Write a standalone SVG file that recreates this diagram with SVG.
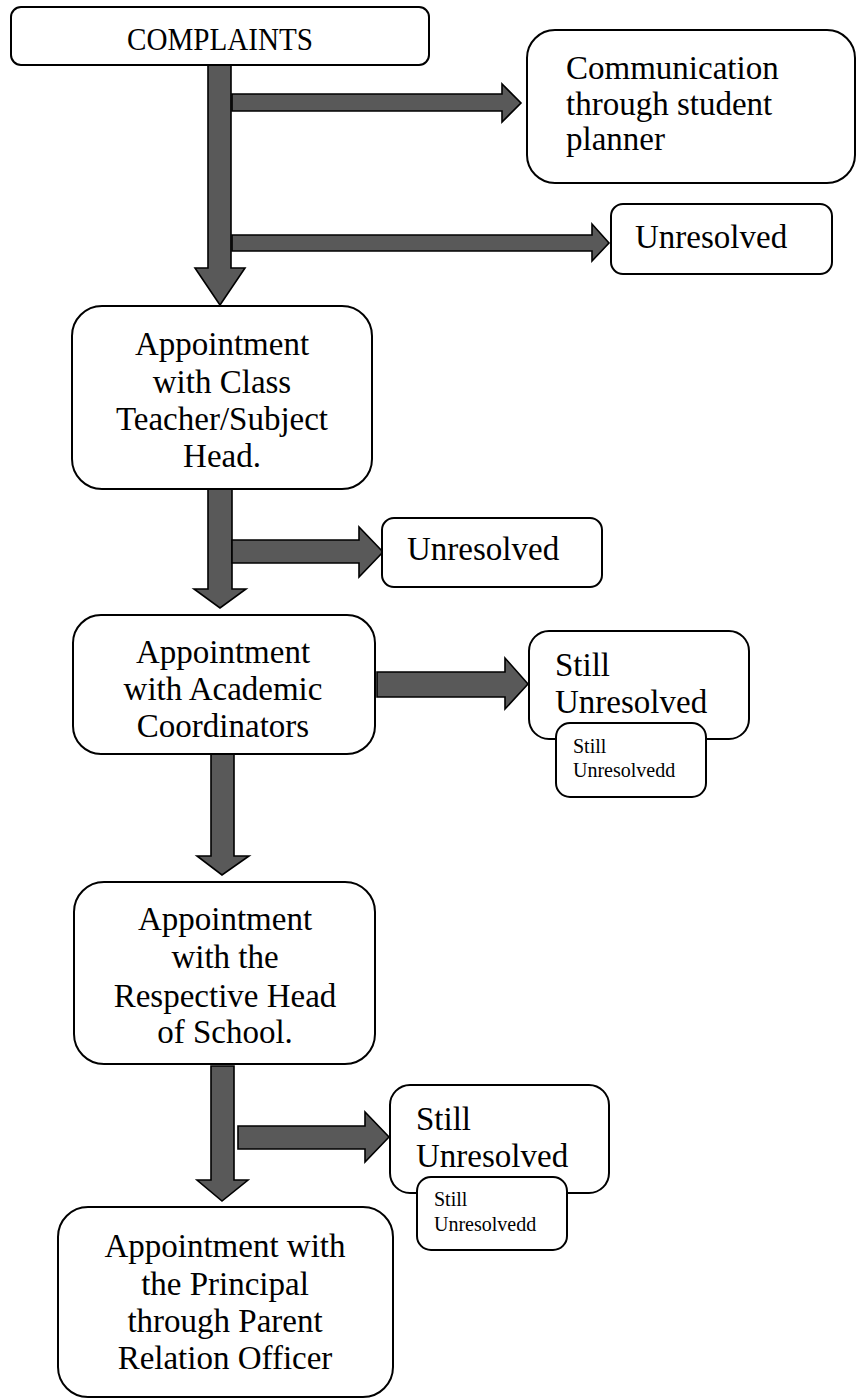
<svg xmlns="http://www.w3.org/2000/svg" width="856" height="1399" viewBox="0 0 856 1399">
<defs>
<style>
.box{fill:#fff;stroke:#000;stroke-width:2}
.arr{fill:#595959;stroke:#000;stroke-width:1.6;stroke-linejoin:miter}
.t{font-family:"Liberation Serif","Times New Roman",serif;font-size:33px;fill:#000}
.c{text-anchor:middle}
.s{font-family:"Liberation Serif","Times New Roman",serif;font-size:20px;fill:#000}
</style>
</defs>
<rect width="856" height="1399" fill="#fff"/>
<g id="connectors">
<polygon class="arr" points="208,65 231,65 231,268 245,268 220,305 195,268 208,268"/>
<polygon class="arr" points="232,94 502,94 502,84 521,103 502,122 502,111 232,111"/>
<polygon class="arr" points="232,235 592,235 592,224 609,243 592,261 592,251 232,251"/>
<polygon class="arr" points="208,489 232,489 232,589 246,589 220,608 194,589 208,589"/>
<polygon class="arr" points="232,540 359,540 359,527 383,552 359,577 359,563 232,563"/>
<polygon class="arr" points="211,754 234,754 234,856 249,856 222,875 197,856 211,856"/>
<polygon class="arr" points="377,672 505,672 505,658 528,684 505,709 505,697 377,697"/>
<polygon class="arr" points="211,1066 234,1066 234,1180 248,1180 222,1201 197,1180 211,1180"/>
<polygon class="arr" points="238,1126 365,1126 365,1112 389,1137 365,1162 365,1149 238,1149"/>
</g>
<g id="complaints">
<rect class="box" x="11" y="7" width="418" height="58" rx="10"/>
<text class="t c" x="220" y="50" style="font-size:32px" textLength="186" lengthAdjust="spacingAndGlyphs">COMPLAINTS</text>
</g>
<g id="communication">
<rect class="box" x="527" y="30" width="328" height="153" rx="28"/>
<text class="t" x="566" y="79">Communication</text>
<text class="t" x="566" y="115">through student</text>
<text class="t" x="566" y="150">planner</text>
</g>
<g id="unresolved1">
<rect class="box" x="611" y="204" width="221" height="70" rx="12"/>
<text class="t" x="635" y="248">Unresolved</text>
</g>
<g id="class-teacher">
<rect class="box" x="72" y="306" width="300" height="183" rx="30"/>
<text class="t c" x="222" y="355">Appointment</text>
<text class="t c" x="222" y="393">with Class</text>
<text class="t c" x="222" y="430">Teacher/Subject</text>
<text class="t c" x="222" y="467">Head.</text>
</g>
<g id="unresolved2">
<rect class="box" x="382" y="518" width="220" height="69" rx="12"/>
<text class="t" x="407" y="560">Unresolved</text>
</g>
<g id="academic">
<rect class="box" x="73" y="615" width="302" height="139" rx="28"/>
<text class="t c" x="223" y="663">Appointment</text>
<text class="t c" x="223" y="700">with Academic</text>
<text class="t c" x="223" y="737">Coordinators</text>
</g>
<g id="still-unresolved1">
<rect class="box" x="529" y="631" width="220" height="108" rx="20"/>
<text class="t" x="555" y="676">Still</text>
<text class="t" x="555" y="713">Unresolved</text>
</g>
<g id="still-unresolvedd1">
<rect class="box" x="556" y="723" width="150" height="74" rx="14"/>
<text class="s" x="573" y="753">Still</text>
<text class="s" x="573" y="777">Unresolvedd</text>
</g>
<g id="head-of-school">
<rect class="box" x="74" y="882" width="301" height="182" rx="30"/>
<text class="t c" x="225" y="930">Appointment</text>
<text class="t c" x="225" y="968">with the</text>
<text class="t c" x="225" y="1007">Respective Head</text>
<text class="t c" x="225" y="1043">of School.</text>
</g>
<g id="still-unresolved2">
<rect class="box" x="390" y="1085" width="219" height="108" rx="20"/>
<text class="t" x="416" y="1130">Still</text>
<text class="t" x="416" y="1167">Unresolved</text>
</g>
<g id="still-unresolvedd2">
<rect class="box" x="417" y="1177" width="150" height="73" rx="14"/>
<text class="s" x="434" y="1206">Still</text>
<text class="s" x="434" y="1231">Unresolvedd</text>
</g>
<g id="principal">
<rect class="box" x="58" y="1207" width="335" height="190" rx="30"/>
<text class="t c" x="225" y="1257">Appointment with</text>
<text class="t c" x="225" y="1295">the Principal</text>
<text class="t c" x="225" y="1332">through Parent</text>
<text class="t c" x="225" y="1369">Relation Officer</text>
</g>
</svg>
